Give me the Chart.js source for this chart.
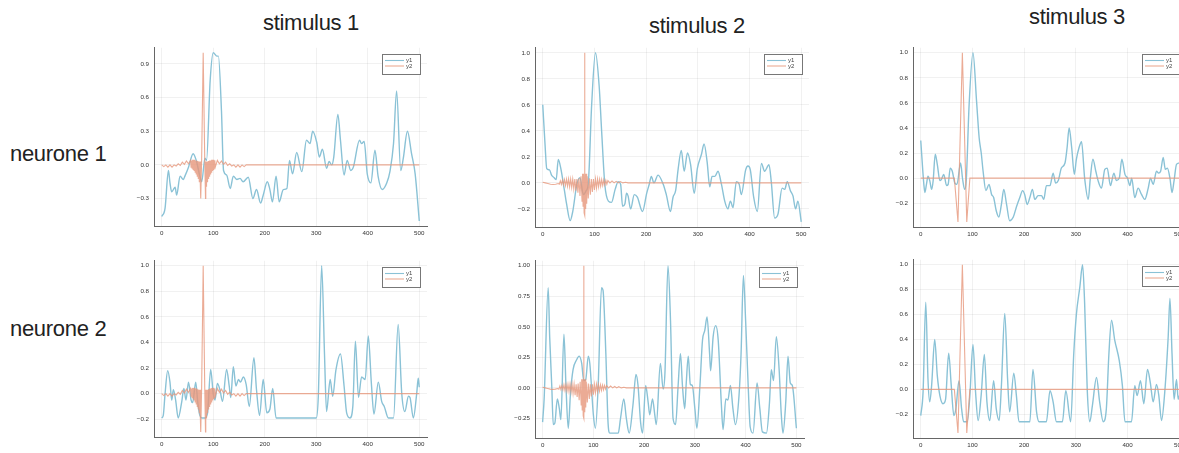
<!DOCTYPE html>
<html><head><meta charset="utf-8">
<script src="https://cdn.jsdelivr.net/npm/chart.js@4.4.1/dist/chart.umd.min.js"></script>
<style>
html,body{margin:0;padding:0;background:#fff;overflow:hidden;}
#wrap{position:relative;width:1179px;height:453px;overflow:hidden;background:#fff;}
.lbl{position:absolute;font-family:"Liberation Sans",Arial,sans-serif;font-size:22px;color:#222;white-space:nowrap;line-height:22px;letter-spacing:-0.3px;}
canvas{position:absolute;}
</style></head><body><div id="wrap">
<div class="lbl" style="left:263px;top:12px;">stimulus 1</div>
<div class="lbl" style="left:649px;top:15px;">stimulus 2</div>
<div class="lbl" style="left:1029px;top:6px;">stimulus 3</div>
<div class="lbl" style="left:10px;top:143px;">neurone 1</div>
<div class="lbl" style="left:10px;top:318px;">neurone 2</div>
</div>
<script>
// ---------- data ----------
const SERIES = ['y1', 'y2'];
const X_TICKS = [0, 100, 200, 300, 400, 500];
const X_LABELS = ['0', '100', '200', '300', '400', '500'];
const X_RANGE = [-15, 515];

const Y_TICKS_A = [-0.3, 0, 0.3, 0.6, 0.9];
const Y_LABELS_A = ['\u22120.3', '0.0', '0.3', '0.6', '0.9'];
const Y_TICKS_B = [-0.2, 0, 0.2, 0.4, 0.6, 0.8, 1.0];
const Y_LABELS_B = ['\u22120.2', '0.0', '0.2', '0.4', '0.6', '0.8', '1.0'];
const Y_TICKS_C = [-0.25, 0, 0.25, 0.5, 0.75, 1.0];
const Y_LABELS_C = ['\u22120.25', '0.00', '0.25', '0.50', '0.75', '1.00'];

// neurone 1, stimulus 1
const B1x = [0,6.5,13,16,19.4,22.6,26,29,35.6,42,45,52,61,67,74,77.6,84,87,94,100,107,110,116,120,126,133,139,146,152,158,168,177,184,192,197,205,210,215,222,228,236,243,248,254,262,272,281,288,293,301,306,312,320,325,330,334,342,347,354,360,367,372,384,388,393,399,406,414,420,428,437,443,450,456,464,469,477,485,492,500];
const B1y = [-0.46,-0.385,-0.05,-0.16,-0.24,-0.22,-0.2,-0.27,-0.1,-0.13,-0.1,-0.02,0.1,0.04,-0.1,-0.15,0.06,0.04,0.75,1.0,0.97,0.97,0.48,-0.05,-0.09,-0.21,-0.1,-0.13,-0.12,-0.15,-0.11,-0.3,-0.22,-0.34,-0.27,-0.15,-0.22,-0.33,-0.1,-0.33,-0.22,-0.21,0.04,-0.08,0.11,-0.06,0.22,0.19,0.3,0.2,0.07,0.14,-0.03,0.03,0.0,0.07,0.45,0.22,-0.09,0.04,-0.05,-0.02,0.22,0.19,0.21,-0.08,-0.16,0.13,-0.1,-0.22,-0.16,-0.06,0.19,0.66,-0.05,0.06,0.3,0.1,-0.08,-0.5];
// neurone 2, stimulus 1
const B2x = [0,3,6.5,11.6,16,19.4,22.6,27,32,39,43,47,52,57,60,66,70,74,78,84,89,95,100,103.5,108,113,118,126,131,134,139,144,149,153,158.5,164,170,179,184,190,197,204,210,215.5,222,300,304,310.5,316,320,327,332,338,347,354,359,365.5,371,376,382,388,395,401,407,412,420.5,427,432,440,450,459,466,472,479,482,488.5,495,498,500];
const B2y = [-0.19,-0.17,0.0,0.18,0.09,-0.05,0.03,-0.05,-0.19,-0.06,0.04,-0.05,0.09,-0.05,-0.07,0.09,-0.07,-0.17,-0.19,-0.19,-0.15,0.19,0.0,-0.05,0.08,0.03,-0.06,0.19,0.06,-0.03,0.21,0.06,0.11,0.09,0.13,0.07,-0.1,0.28,0.03,-0.17,0.11,-0.15,-0.12,0.04,-0.19,-0.19,-0.02,1.0,0.31,-0.14,0.11,-0.02,0.18,0.31,0.06,-0.15,-0.19,-0.1,0.41,-0.03,0.13,0.11,0.45,0.08,-0.16,0.09,-0.06,-0.1,-0.19,-0.19,0.54,0.0,-0.14,-0.02,-0.03,-0.19,0.0,0.12,0.05];
// neurone 1, stimulus 2
const B3x = [0,4.5,7.7,13,17,22,26,30,35,42,46,53,58,66,72,78.5,84,88,94.6,102,109,114,120,127,133,140,146,150.6,154.4,159,162,165,170,177,183,193,201,206,210,215,223,233,239,247,252,257,262,268,273.5,280,286,293,299,307,312,318,323,327.5,333,339,345.6,352,358,363,368,374.5,380,384,392.5,397,401.5,408,415,423,429,437.6,442,448.5,455,463,468,473,479,484,489,493.5,500];
const B3y = [0.6,0.29,0.11,0.1,0.06,0.04,0.025,0.18,0.11,-0.06,-0.16,-0.29,-0.22,-0.01,0.04,-0.09,-0.06,-0.01,0.6,1.0,0.75,0.39,-0.01,-0.14,-0.15,-0.05,0.01,-0.01,-0.18,-0.16,-0.08,-0.1,-0.2,-0.09,-0.11,-0.22,-0.08,-0.01,0.05,0.0,0.06,-0.01,-0.09,-0.22,-0.11,-0.06,0.11,0.25,0.09,0.23,0.14,-0.08,0.11,0.22,0.3,0.16,-0.03,0.05,0.05,0.09,-0.01,-0.14,-0.2,-0.14,-0.19,0.01,-0.01,-0.09,0.1,0.13,0.1,-0.11,-0.22,0.15,0.09,0.14,0.01,-0.27,-0.24,-0.04,-0.05,0.01,-0.06,-0.1,-0.2,-0.14,-0.3];
// neurone 2, stimulus 2
const B4x = [0,3,11,14,18,21,24,29,33,36,42,46,50.5,55,60,67,72,77,81,85,90,93,100,104,109.5,116,119,124.6,129,132.5,149,153.5,160,165,170.6,178,184,188,193,197,203,208,211,216.5,221,224,232,237.5,241,247,252,257,262,267,271.6,275.5,280,283,287,291,295,300,304,310,315,319.5,324,329,331,336,341,346,352,355.5,361,365,370,375,380,387,391,395.6,400,405,409,414.6,422.5,428,433,441,447,450.6,455,460.5,466,470,473.6,479,483.5,488,492,500];
const B4y = [-0.28,-0.09,0.82,0.41,0.02,-0.3,-0.29,-0.09,-0.17,-0.26,0.44,0.02,-0.33,-0.04,0.15,0.23,0.26,0.2,0.06,0.07,0.26,0.2,-0.22,-0.33,0.02,0.82,0.8,0.28,-0.29,-0.37,-0.37,-0.25,-0.09,-0.25,-0.37,-0.14,0.11,0.02,-0.28,-0.37,0.02,-0.12,-0.22,-0.09,-0.22,-0.3,0.2,-0.01,0.12,1.0,0.55,-0.25,-0.3,0.02,0.28,0.02,-0.17,0.04,0.26,0.03,0.02,-0.17,-0.33,0.02,0.39,0.47,0.58,0.28,0.14,0.42,0.51,0.39,-0.12,-0.34,-0.09,-0.1,0.02,-0.17,-0.3,-0.06,0.28,0.92,0.55,0.02,-0.32,-0.37,0.04,-0.17,-0.36,-0.37,-0.12,0.15,0.06,0.42,0.15,-0.2,-0.37,-0.12,0.26,0.04,0.02,-0.33];
// neurone 1, stimulus 3
const B5x = [0,6,8,11,14,17.4,21,24,28,32,37,40,44.5,50,53,57,61,66,70,77,81,85,88,93.5,101,108,113,117,120.6,126,132,137,141,146,151,156,160.6,166,172,179,185,191.6,197,201,206,211,216,220.6,227,233.5,238,243,250,256,261,266,272,279,283,287,292,297,301,306,311,317,324,328,333,338.6,343,349.6,356,360.6,367,373.5,378.6,384,389,395,400,404.5,408,414,420.5,427,433.4,440,444.4,449.6,456,460,464,469,473,477,482,486,490,494.7,500];
const B5y = [0.3,-0.05,-0.115,-0.05,0.015,-0.02,-0.09,-0.02,0.19,0.11,-0.02,-0.01,0.03,-0.06,-0.05,0.08,0.055,-0.04,-0.05,0.12,-0.01,-0.09,-0.02,0.58,1.0,0.61,0.32,0.2,0.055,-0.1,-0.05,-0.13,-0.155,-0.26,-0.31,-0.21,-0.09,-0.21,-0.34,-0.31,-0.23,-0.155,-0.1,-0.13,-0.21,-0.155,-0.09,-0.17,-0.14,-0.14,-0.17,-0.06,-0.06,0.04,-0.04,-0.02,0.08,0.12,0.24,0.4,0.24,0.03,0.15,0.24,0.29,0.0,-0.17,0.0,0.15,0.055,-0.02,-0.08,0.07,0.08,-0.06,0.04,-0.02,0.0,0.15,0.03,0.0,-0.06,0.0,-0.155,-0.08,-0.13,-0.17,-0.08,0.0,-0.05,0.055,0.04,0.055,0.165,0.07,0.08,0.0,-0.115,-0.02,0.11,0.12];
// neurone 2, stimulus 3
const B6x = [0,4.5,9.7,14,17.4,21,27,32,37,43,48,54,59,64,68,74,79,83,90,95,101,106,111,117,123,128,133.5,141,146,151.6,156,162.5,168,172,180,185,190,211,217,224,229,243,250,256,262.5,274,280.6,290,296,301,307.7,313,317,322,327,332,340,346,353,359,364,369,375,384,390,395,407.6,414,418.6,425,431.5,438.6,444,449.6,456,460.5,465.7,472,478.6,482,486,490,494.7,498,500];
const B6y = [-0.21,-0.02,0.7,0.08,-0.1,0.03,0.4,0.11,-0.05,-0.115,-0.08,0.29,0.03,-0.21,-0.155,0.07,-0.155,-0.26,-0.26,-0.05,0.36,-0.02,-0.25,-0.04,0.28,-0.1,-0.25,0.07,-0.155,-0.25,0.03,0.61,0.08,-0.18,0.13,-0.05,-0.26,-0.26,0.16,-0.18,-0.26,-0.26,-0.01,-0.1,-0.26,-0.26,-0.01,-0.26,0.29,0.6,0.82,1.0,0.69,0.0,-0.26,-0.13,0.095,-0.1,-0.26,-0.155,0.29,0.555,0.4,0.23,0.03,-0.26,-0.26,0.03,-0.05,0.07,-0.115,0.16,0.055,-0.1,0.04,-0.05,-0.25,-0.02,0.42,0.73,0.29,-0.08,0.08,-0.08,-0.05];

// stimulus kernels (y2)
const O1x = [0,4,8,12,16,20,24,28,32,36,40,44,48,52,56,57,58,59,60,61,62,63,64,65,66,67,68,69,70,71,72,73,74,75,75.5,76,77.5,80.5,83.5,85,85.5,86,87,88,89,90,91,92,93,94,95,96,97,98,99,100,101,102,103,104,108,112,116,120,124,128,132,136,140,144,148,152,156,160,164,500];
const O1y = [0,-0.015,0,-0.02,0,-0.02,0,-0.01,0.01,-0.005,0.025,0.005,0.035,0.01,0.04,-0.02,0.04,-0.03,0.045,-0.04,0.045,-0.05,0.045,-0.065,0.04,-0.08,0.04,-0.1,0.035,-0.12,0.03,-0.15,0.03,-0.19,0.03,-0.3,0.05,1.0,0.05,-0.3,0.03,-0.19,0.03,-0.15,0.03,-0.12,0.035,-0.1,0.04,-0.08,0.04,-0.065,0.045,-0.05,0.045,-0.04,0.045,-0.03,0.04,-0.02,0.04,0.01,0.035,0.005,0.025,-0.005,0.01,-0.01,0,-0.02,0,-0.02,0,-0.015,0,0];
const O2x = [0,5,10,15,20,25,30,32,34,36,38,40,42,44,46,48,50,52,54,56,58,60,62,64,66,68,70,72,74,76,77,78,79,80,81,81.5,82,83,84,85,86,88,90,92,94,96,98,100,102,104,106,108,110,112,114,116,118,120,122,124,126,130,134,138,142,146,150,155,160,165,500];
const O2y = [0.005,0,-0.005,-0.01,-0.012,-0.01,-0.005,-0.01,0.015,-0.012,0.02,-0.015,0.025,-0.02,0.028,-0.025,0.03,-0.03,0.03,-0.035,0.03,-0.045,0.03,-0.06,0.03,-0.075,0.035,-0.1,0.05,-0.14,0.07,-0.18,0.07,-0.23,1.0,-0.25,0.07,-0.2,0.07,-0.16,0.05,-0.12,0.035,-0.09,0.03,-0.07,0.03,-0.055,0.03,-0.04,0.03,-0.03,0.028,-0.025,0.025,-0.02,0.022,-0.015,0.02,-0.01,0.018,0,0.015,0,0.012,0,0.01,0,0.005,0,0];
const O3x = [0,65,72,80.5,89,95,500];
const O3y = [0,0,-0.35,1.0,-0.35,0,0];

// ---------- drawing ----------
const BLUE = 'rgb(138,194,214)';
const ORANGE = 'rgba(230,150,122,0.8)';
const FONT = '"Liberation Sans", Arial, sans-serif';
const PAD = {l: 40, r: 6, t: 6, b: 18};
const wrap = document.getElementById('wrap');

function pts(xs, ys) { return xs.map((x, i) => ({x: x, y: ys[i]})); }

const boxLegend = {
  id: 'boxLegend',
  afterDatasetsDraw(chart) {
    const ctx = chart.ctx, a = chart.chartArea;
    const bw = 38, bh = 20;
    const x0 = Math.round(a.right - 7 - bw), y0 = Math.round(a.top + 6);
    ctx.save();
    ctx.fillStyle = '#fff';
    ctx.fillRect(x0, y0, bw, bh);
    ctx.strokeStyle = '#777';
    ctx.lineWidth = 1;
    ctx.strokeRect(x0 + 0.5, y0 + 0.5, bw, bh);
    const items = chart.data.datasets.slice().reverse();
    items.forEach((d, i) => {
      const y = y0 + 6.5 + i * 5.5;
      ctx.strokeStyle = d.borderColor;
      ctx.lineWidth = 1.1;
      ctx.beginPath(); ctx.moveTo(x0 + 3, y); ctx.lineTo(x0 + 22, y); ctx.stroke();
      ctx.fillStyle = '#444';
      ctx.font = '6px ' + FONT;
      ctx.textBaseline = 'middle';
      ctx.fillText(d.label, x0 + 24, y);
    });
    ctx.restore();
  }
};

function addChart(area, yr, yt, yl, bx, by, ox, oy) {
  const w = Math.round(area.R - area.L) + PAD.l + PAD.r;
  const h = Math.round(area.B - area.T) + PAD.t + PAD.b;
  const c = document.createElement('canvas');
  c.width = w; c.height = h;
  c.style.width = w + 'px'; c.style.height = h + 'px';
  c.style.left = Math.round(area.L - PAD.l) + 'px';
  c.style.top = Math.round(area.T - PAD.t) + 'px';
  wrap.appendChild(c);
  const grid = {color: 'rgba(0,0,0,0.055)', drawTicks: false, lineWidth: 1};
  const border = {color: '#666', width: 1};
  const chart = new Chart(c, {
    type: 'line',
    data: {datasets: [
      {label: SERIES[1], data: pts(ox, oy), borderColor: ORANGE, borderWidth: 1.1, pointRadius: 0, tension: 0, order: 0},
      {label: SERIES[0], data: pts(bx, by), borderColor: BLUE, borderWidth: 1.4, pointRadius: 0, cubicInterpolationMode: 'monotone', order: 1}
    ]},
    options: {
      responsive: false, animation: false, devicePixelRatio: 1, events: [],
      layout: {padding: {left: 0, top: PAD.t, right: PAD.r, bottom: 0}},
      plugins: {legend: {display: false}, tooltip: {enabled: false}},
      scales: {
        x: {
          type: 'linear', min: X_RANGE[0], max: X_RANGE[1],
          afterFit: s => { s.height = PAD.b; },
          afterBuildTicks: s => { s.ticks = X_TICKS.map(v => ({value: v})); },
          ticks: {callback: (v, i) => X_LABELS[i], font: {size: 6.2, family: FONT}, color: '#333', padding: 4, maxRotation: 0, autoSkip: false},
          grid: grid, border: border
        },
        y: {
          type: 'linear', min: yr[0], max: yr[1],
          afterFit: s => { s.width = PAD.l; },
          afterBuildTicks: s => { s.ticks = yt.map(v => ({value: v})); },
          ticks: {callback: (v, i) => yl[i], font: {size: 6.2, family: FONT}, color: '#333', padding: 5, autoSkip: false},
          grid: grid, border: border
        }
      }
    },
    plugins: [boxLegend]
  });
  const ca = chart.chartArea;
  c.style.left = Math.round(area.L - ca.left) + 'px';
  c.style.top = Math.round(area.T - ca.top) + 'px';
  return chart;
}

addChart({L: 154, R: 427, T: 48, B: 229}, [-0.545, 1.045], Y_TICKS_A, Y_LABELS_A, B1x, B1y, O1x, O1y);
addChart({L: 154, R: 427, T: 261, B: 440}, [-0.339, 1.039], Y_TICKS_B, Y_LABELS_B, B2x, B2y, O1x, O1y);
addChart({L: 535, R: 809, T: 48, B: 230}, [-0.339, 1.039], Y_TICKS_B, Y_LABELS_B, B3x, B3y, O2x, O2y);
addChart({L: 535, R: 804, T: 261, B: 441}, [-0.41, 1.041], Y_TICKS_C, Y_LABELS_C, B4x, B4y, O2x, O2y);
addChart({L: 913, R: 1187, T: 48, B: 230}, [-0.39, 1.04], Y_TICKS_B, Y_LABELS_B, B5x, B5y, O3x, O3y);
addChart({L: 913, R: 1187, T: 260, B: 441}, [-0.39, 1.04], Y_TICKS_B, Y_LABELS_B, B6x, B6y, O3x, O3y);
</script></body></html>
